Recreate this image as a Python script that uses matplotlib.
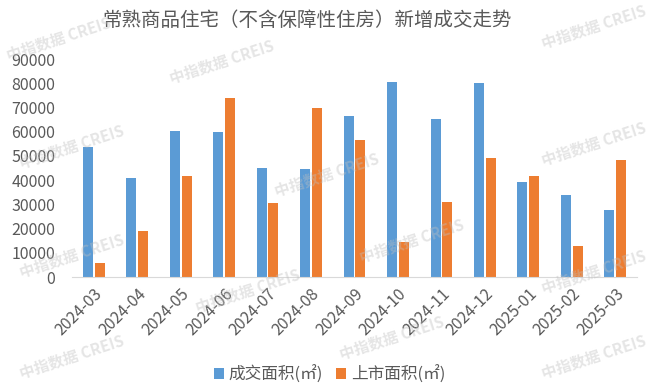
import numpy as np
import matplotlib.pyplot as plt

plt.rcParams['font.family'] = ['Noto Sans CJK SC', 'DejaVu Sans']

months = ["2024-03", "2024-04", "2024-05", "2024-06", "2024-07", "2024-08", "2024-09",
          "2024-10", "2024-11", "2024-12", "2025-01", "2025-02", "2025-03"]
deal_area = [53800, 41000, 60400, 60000, 45100, 44700, 66600,
             80600, 65400, 80200, 39400, 34000, 27800]
supply_area = [5900, 19100, 41800, 74000, 30600, 69900, 56700,
               14600, 31100, 49300, 41800, 12900, 48400]

blue = "#5B9BD5"
orange = "#ED7D31"
txt = "#595959"

fig = plt.figure(figsize=(6.53, 3.88), dpi=100)
ax = fig.add_axes([72 / 653, 1 - 277 / 388, 565 / 653, 218 / 388])

x = np.arange(len(months))
w = 0.23
ax.bar(x - 0.135, deal_area, w, color=blue, label="成交面积(㎡)")
ax.bar(x + 0.135, supply_area, w, color=orange, label="上市面积(㎡)")

ax.set_xlim(-0.5, len(months) - 0.5)
ax.set_ylim(0, 90000)
ax.set_yticks(range(0, 90001, 10000))
ax.set_yticklabels([str(v) for v in range(0, 90001, 10000)])
ax.set_xticks(x)
ax.set_xticklabels(months, rotation=45, ha="right", rotation_mode="anchor")
ax.tick_params(axis="both", length=0, labelsize=11.5, colors=txt)
ax.tick_params(axis="y", pad=12)
ax.tick_params(axis="x", pad=6)
for s in ["top", "right", "left"]:
    ax.spines[s].set_visible(False)
ax.spines["bottom"].set_color("#D9D9D9")

fig.text(0.47, 0.948, "常熟商品住宅（不含保障性住房）新增成交走势", ha="center", va="center",
         fontsize=14, color=txt)

fig.legend(loc="center", bbox_to_anchor=(0.505, 0.035), ncol=2, frameon=False,
           fontsize=12, labelcolor=txt, handlelength=0.6, handleheight=0.6,
           handletextpad=0.3, columnspacing=0.8)

# watermarks
marks = [(0.09, 0.9), (0.34, 0.84), (0.91, 0.93), (0.11, 0.62), (0.5, 0.55),
         (0.91, 0.63), (0.11, 0.34), (0.38, 0.25), (0.63, 0.38), (0.91, 0.3),
         (0.11, 0.08), (0.6, 0.13), (0.91, 0.08)]
for mx, my in marks:
    fig.text(mx, my, "中指数据 CREIS", ha="center", va="center", rotation=18,
             fontsize=11, color="#BFBFBF", alpha=0.4, fontweight="bold")

plt.savefig("out.png", dpi=100)
